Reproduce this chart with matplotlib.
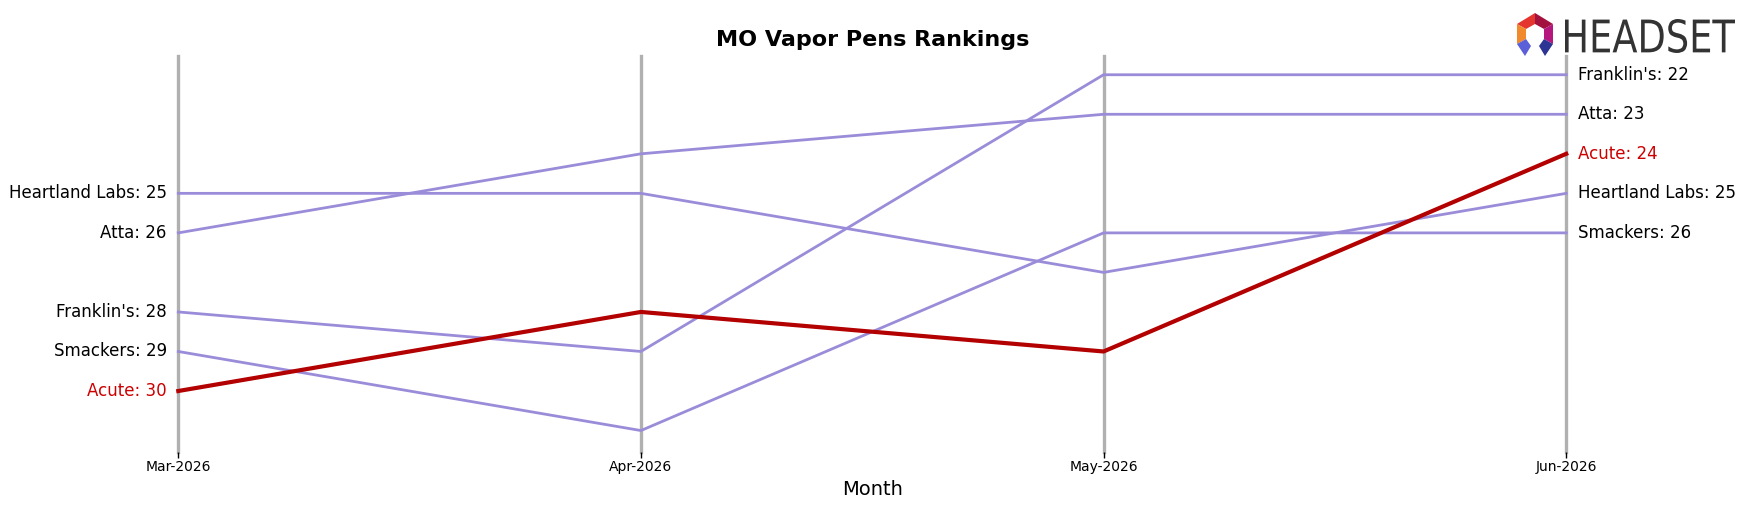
import matplotlib
matplotlib.use("Agg")
import matplotlib.pyplot as plt
from matplotlib.patches import Polygon, PathPatch
from matplotlib.textpath import TextPath
from matplotlib.font_manager import FontProperties
from matplotlib.transforms import Affine2D

# data
months = ["Mar-2026", "Apr-2026", "May-2026", "Jun-2026"]
brands = ["Franklin's", "Atta", "Heartland Labs", "Smackers", "Acute"]
franklins = [28, 29, 22, 22]
atta = [26, 24, 23, 23]
heartland = [25, 25, 27, 25]
smackers = [29, 31, 26, 26]
acute = [30, 28, 29, 24]
ranks = [franklins, atta, heartland, smackers, acute]
highlight = "Acute"

purple = "#9b8cd9"
red = "#b30000"
label_red = "#cc0000"

W, H = 1748, 507
fig = plt.figure(figsize=(W / 100, H / 100), dpi=100)
ax = fig.add_axes([0.102, 0.109, 0.794, 0.781])

x = list(range(len(months)))
for xi in x:
    ax.axvline(xi, color="#b0b0b0", lw=2.4, zorder=1, clip_on=False)

for name, r in zip(brands, ranks):
    is_hl = name == highlight
    ax.plot(x, r, color=red if is_hl else purple, lw=3 if is_hl else 2,
            zorder=3 if is_hl else 2, clip_on=False)
    col = label_red if is_hl else "black"
    ax.text(x[0] - 0.025, r[0], f"{name}: {r[0]}", ha="right", va="center",
            fontsize=12, color=col)
    ax.text(x[-1] + 0.025, r[-1], f"{name}: {r[-1]}", ha="left", va="center",
            fontsize=12, color=col)

ax.set_ylim(31.536, 21.52)
ax.set_xlim(x[0], x[-1])
ax.set_yticks([])
ax.set_xticks(x)
ax.set_xticklabels(months, fontsize=10)
ax.tick_params(axis="x", length=4, width=1, pad=2)
for s in ax.spines.values():
    s.set_visible(False)
ax.set_xlabel("Month", fontsize=14, labelpad=4)
ax.set_title("MO Vapor Pens Rankings", fontsize=16, fontweight="bold", pad=7)

# logo text, squeezed to fit the narrow wordmark
tp = TextPath((0, 0), "HEADSET", size=1, prop=FontProperties(family="DejaVu Sans"))
ext = tp.get_extents()
tx0, tw = 1565 / W, 170 / W
ty0, th = 1 - 53 / H, 34 / H
tr = (Affine2D().translate(-ext.x0, -ext.y0)
      .scale(tw / ext.width, th / ext.height)
      .translate(tx0, ty0) + fig.transFigure)
fig.patches.append(PathPatch(tp, color="#333333", lw=0, transform=tr))

# logo icon (pixel offsets from its centre, y pointing down)
cx, cy = 1535, 34
o = {"t": (0, -21), "ur": (18, -10), "lr": (18, 10), "ll": (-18, 10), "ul": (-18, -10)}
i = {"t": (0, -10), "ur": (9, -5), "lr": (9, 5), "ll": (-9, 5), "ul": (-9, -5)}
pieces = [
    ([o["ul"], o["t"], i["t"], i["ul"]], "#e5352f"),
    ([o["t"], o["ur"], i["ur"], i["t"]], "#a3123f"),
    ([o["ur"], o["lr"], i["lr"], i["ur"]], "#b5177f"),
    ([o["ul"], o["ll"], i["ll"], i["ul"]], "#f08a2c"),
    ([o["ll"], i["ll"], (-4, 12), (-10, 22)], "#5b5fd8"),
    ([o["lr"], i["lr"], (4, 12), (10, 22)], "#2e3494"),
]
for pts, c in pieces:
    poly = Polygon([((cx + px) / W, 1 - (cy + py) / H) for px, py in pts],
                   closed=True, color=c, lw=0, transform=fig.transFigure)
    fig.patches.append(poly)

fig.savefig("out.png", dpi=100)
